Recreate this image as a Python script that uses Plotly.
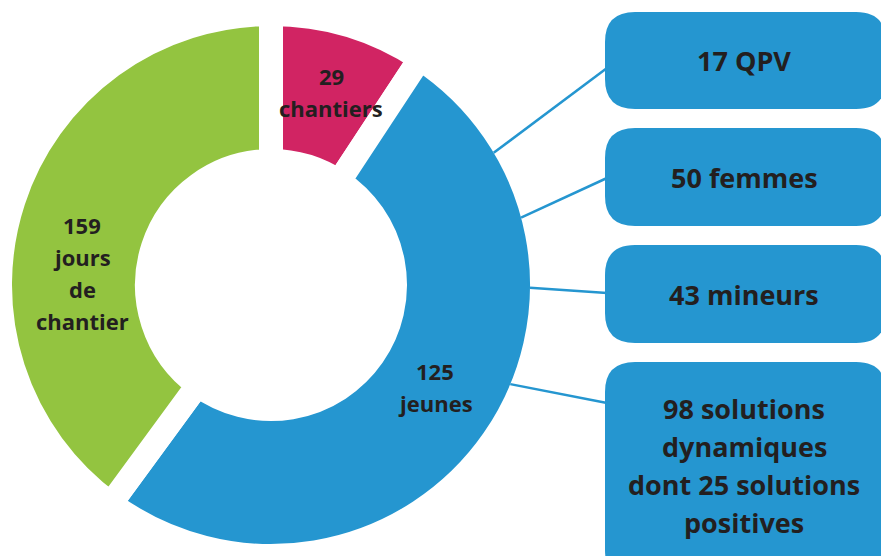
import math
import plotly.graph_objects as go

# ---- data -------------------------------------------------------------
slice_names = ["chantiers", "jeunes", "jours de chantier"]
slice_sizes = [29, 159, 125]          # shares of the ring as drawn
slice_labels = [["29", "chantiers"], ["125", "jeunes"], ["159", "jours", "de", "chantier"]]
slice_colors = ["#D12463", "#2596D0", "#93C440"]

box_labels = [
    ["17 QPV"],
    ["50 femmes"],
    ["43 mineurs"],
    ["98 solutions", "dynamiques", "dont 25 solutions", "positives"],
]

# ---- layout helpers ---------------------------------------------------
W, H = 881, 556
BLUE = "#2596D0"
TEXT = "#231F20"
FONT = "Open Sans"

def px(x):
    return x / W

def py(y):
    return 1 - y / H

# donut geometry (pixels)
dom_x = [0, 542 / W]
dom_y = [0, 542 / H]
R = min((dom_x[1] - dom_x[0]) * W, (dom_y[1] - dom_y[0]) * H) / 2
cx = (dom_x[0] + dom_x[1]) / 2 * W
cy = (1 - (dom_y[0] + dom_y[1]) / 2) * H
GAP = 24
R_vis = R - GAP / 2
hole_vis = 136
hole = (hole_vis - GAP / 2) / R

fig = go.Figure()
fig.add_trace(go.Pie(
    values=slice_sizes,
    labels=slice_names,
    marker=dict(colors=slice_colors, line=dict(color="white", width=GAP)),
    hole=hole,
    sort=False,
    direction="clockwise",
    rotation=0,
    textinfo="none",
    hoverinfo="skip",
    showlegend=False,
    domain=dict(x=dom_x, y=dom_y),
))

shapes = []
annotations = []

def add_lines(lines, xc, yc, spacing, size):
    n = len(lines)
    for i, ln in enumerate(lines):
        y = yc + (i - (n - 1) / 2) * spacing
        annotations.append(dict(
            x=px(xc), y=py(y), xref="paper", yref="paper",
            text=f"<b>{ln}</b>", showarrow=False,
            font=dict(family=FONT, size=size, color=TEXT),
            xanchor="center", yanchor="middle",
        ))

# slice labels (centre offsets from ring centre, in pixels)
label_offsets = [(60, -193), (164, 102), (-189, -12)]
for lines, (dx, dy) in zip(slice_labels, label_offsets):
    add_lines(lines, cx + dx, cy + dy, 32, 22)

# call-out boxes
box_tops = [12, 128, 245, 362]
box_bottoms = [109, 226, 343, 580]
bx0, bx1, rad = 605, 886, 30
link_angles = [59.3, 74.9, 90.6, 112.5]
link_ends = [68, 178, 293, 403]

def rounded_rect(x0, y0, x1, y1, r):
    pts = [
        f"M {px(x0 + r)},{py(y0)}",
        f"L {px(x1 - r)},{py(y0)}",
        f"Q {px(x1)},{py(y0)} {px(x1)},{py(y0 + r)}",
        f"L {px(x1)},{py(y1 - r)}",
        f"Q {px(x1)},{py(y1)} {px(x1 - r)},{py(y1)}",
        f"L {px(x0 + r)},{py(y1)}",
        f"Q {px(x0)},{py(y1)} {px(x0)},{py(y1 - r)}",
        f"L {px(x0)},{py(y0 + r)}",
        f"Q {px(x0)},{py(y0)} {px(x0 + r)},{py(y0)}",
        "Z",
    ]
    return " ".join(pts)

for lines, t, b, ang, ye in zip(box_labels, box_tops, box_bottoms, link_angles, link_ends):
    shapes.append(dict(
        type="path", xref="paper", yref="paper",
        path=rounded_rect(bx0, t, bx1, b, rad),
        fillcolor=BLUE, line=dict(width=0), layer="above",
    ))
    a = math.radians(ang)
    xs = cx + R_vis * math.sin(a)
    ys = cy - R_vis * math.cos(a)
    shapes.append(dict(
        type="line", xref="paper", yref="paper",
        x0=px(xs), y0=py(ys), x1=px(bx0 + 2), y1=py(ye),
        line=dict(color=BLUE, width=2.5), layer="above",
    ))
    yc = (t + b) / 2 if b < H else 465
    add_lines(lines, 744, yc, 38, 27)

fig.update_layout(
    width=W, height=H,
    margin=dict(l=0, r=0, t=0, b=0),
    paper_bgcolor="white", plot_bgcolor="white",
    shapes=shapes, annotations=annotations,
)

fig.write_html(
    "out.html",
    config={"displayModeBar": False, "staticPlot": True},
    post_script="document.body.style.margin='0';document.body.style.overflow='hidden';",
)
